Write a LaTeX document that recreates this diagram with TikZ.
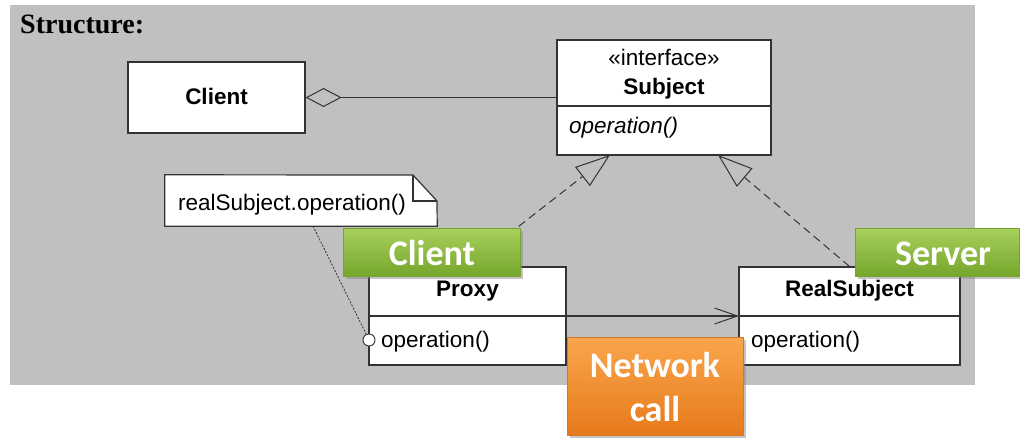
\documentclass[tikz,border=0pt]{standalone}
\usepackage{fontspec}
\setmainfont{Liberation Sans}
\newfontfamily\titlefont{Liberation Serif}
\newfontfamily\badgefont{Carlito}
\usetikzlibrary{arrows.meta,shadows,calc}
\definecolor{bggray}{RGB}{192,192,192}
\definecolor{edge}{RGB}{51,51,51}
\definecolor{gtop}{RGB}{168,208,92}
\definecolor{gbot}{RGB}{118,166,44}
\definecolor{gedge}{RGB}{120,162,50}
\definecolor{otop}{RGB}{250,166,76}
\definecolor{obot}{RGB}{230,122,28}
\definecolor{oedge}{RGB}{215,120,40}
\begin{document}
\begin{tikzpicture}[x=1pt,y=-1pt,
  umlbox/.style={draw=edge, line width=1.2pt, fill=white, inner sep=0pt},
  txt/.style={inner sep=0pt, anchor=base, font=\fontsize{22.5}{27}\selectfont},
  ltxt/.style={inner sep=0pt, anchor=base west, font=\fontsize{22.5}{27}\selectfont},
  divider/.style={draw=edge, line width=1.2pt},
  realize/.style={draw=edge, line width=1pt, dash pattern=on 8pt off 5pt},
  badgebox/.style={inner sep=0pt, line width=0.8pt,
    drop shadow={shadow xshift=2.5pt, shadow yshift=-2.5pt, opacity=0.45}},
  greenbadge/.style={badgebox, draw=gedge, top color=gtop, bottom color=gbot},
  orangebadge/.style={badgebox, draw=oedge, top color=otop, bottom color=obot},
  badgetxt/.style={inner sep=0pt, anchor=base, text=white,
    font=\badgefont\bfseries\fontsize{36}{42}\selectfont}
]
\useasboundingbox (0,0) rectangle (1020,439);
\fill[white] (0,0) rectangle (1020,439);
\fill[bggray] (10,5) rectangle (975,385);

\node[inner sep=0pt, anchor=base west, font=\titlefont\bfseries\fontsize{28}{32}\selectfont] (title) at (20,33) {Structure:};

% Client
\node[umlbox, minimum width=177pt, minimum height=71pt] (client) at (216.5,97.5) {};
\node[txt, font=\bfseries\fontsize{22.5}{27}\selectfont] (clientname) at (216.5,104) {Client};

% Subject
\node[umlbox, minimum width=214pt, minimum height=115pt] (subject) at (664,97.5) {};
\draw[divider] (557,106) -- (771,106);
\node[txt] (stereo) at (664,65) {«interface»};
\node[txt, font=\bfseries\fontsize{22.5}{27}\selectfont] (subjname) at (664,94) {Subject};
\node[ltxt, font=\itshape\fontsize{22.5}{27}\selectfont] (subjop) at (569,133) {operation()};

% Proxy
\node[umlbox, minimum width=197pt, minimum height=98pt] (proxy) at (467.5,316) {};
\coordinate (proxydivL) at (369,316);
\coordinate (proxydivR) at (566,316);
\draw[divider] (proxydivL) -- (proxydivR);
\node[txt, font=\bfseries\fontsize{22.5}{27}\selectfont] (proxyname) at (467.5,296) {Proxy};
\node[ltxt] (proxyop) at (381,347) {operation()};

% RealSubject
\node[umlbox, minimum width=221pt, minimum height=98pt] (real) at (849.5,316) {};
\coordinate (realdivL) at (739,316);
\coordinate (realdivR) at (960,316);
\draw[divider] (realdivL) -- (realdivR);
\node[txt, font=\bfseries\fontsize{22.5}{27}\selectfont] (realname) at (849.5,296.5) {RealSubject};
\node[ltxt] (realop) at (751,347) {operation()};

% aggregation
\draw[draw=edge, line width=1.2pt, {Diamond[open, length=36pt, width=19pt, line width=1pt]}-] (client.east) -- (subject.west);

% realizations
\coordinate (subjL) at (610,155);
\coordinate (subjR) at (718,155);
\draw[realize, -{Triangle[open, length=35pt, width=24pt, line width=1pt, sep=0pt]}] (proxy.north) -- (subjL);
\draw[realize, -{Triangle[open, length=35pt, width=24pt, line width=1pt, sep=0pt]}] (real.north) -- (subjR);

% call
\draw[draw=edge, line width=1.1pt, -{Straight Barb[length=23pt, width=16pt, line width=1pt]}] (proxydivR) -- (realdivL);

% note
\node[inner sep=0pt, minimum width=272pt, minimum height=51pt] (note) at (301,200.5) {};
\draw[draw=edge, line width=1.2pt, fill=white] (note.north west) -- (413,175) -- (437,201) -- (note.south east) -- (note.south west) -- cycle;
\draw[draw=edge, line width=1.2pt] (413,175) -- (413,201) -- (437,201);
\node[ltxt] (notetext) at (178,210) {realSubject.operation()};
\node[circle, draw=edge, line width=0.9pt, fill=white, minimum size=12pt, inner sep=0pt] (port) at (369,340) {};
\draw[draw=edge, line width=0.8pt, dash pattern=on 2pt off 1.5pt] (313,226) -- (port);

% badges
\node[greenbadge, minimum width=177pt, minimum height=48pt] (clientbadge) at (431.5,252) {};
\node[badgetxt] (clientbadgetxt) at (432,265) {Client};
\node[greenbadge, minimum width=164pt, minimum height=48pt] (serverbadge) at (937,252) {};
\node[badgetxt] (serverbadgetxt) at (943,265) {Server};
\node[orangebadge, minimum width=176pt, minimum height=98pt] (netbadge) at (655,386) {};
\node[badgetxt] (nettxt1) at (655,377) {Network};
\node[badgetxt] (nettxt2) at (655,421) {call};
\end{tikzpicture}
\end{document}
